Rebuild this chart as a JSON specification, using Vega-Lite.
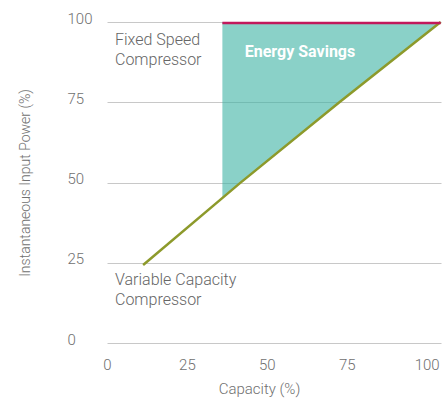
{
  "$schema": "https://vega.github.io/schema/vega-lite/v6.json",
  "width": 334,
  "height": 321,
  "autosize": {"type": "none"},
  "padding": {"left": 107, "top": 22, "right": 7, "bottom": 58},
  "config": {
    "view": {"stroke": null},
    "font": "Roboto",
    "axis": {
      "labelFont": "Roboto",
      "labelFontSize": 15,
      "labelFontWeight": 300,
      "labelColor": "#707070",
      "titleFont": "Roboto",
      "titleFontSize": 15,
      "titleFontWeight": 300,
      "titleColor": "#707070",
      "gridColor": "#c8c8c8",
      "gridWidth": 1,
      "domain": false,
      "ticks": false,
      "tickSize": 0
    }
  },
  "datasets": {
    "variable": [
      {"capacity": 11.3, "power": 24.3},
      {"capacity": 41.6, "power": 49.8},
      {"capacity": 72.8, "power": 75.1},
      {"capacity": 104.4, "power": 100}
    ],
    "savings": [
      {"capacity": 36.1, "low": 45.5, "high": 100},
      {"capacity": 41.6, "low": 49.8, "high": 100},
      {"capacity": 72.8, "low": 75.1, "high": 100},
      {"capacity": 104.4, "low": 100, "high": 100}
    ],
    "fixed": [
      {"start": 36.1, "end": 104.4, "power": 100}
    ],
    "labels": [
      {"capacity": 2.5, "power": 92.8, "label": "Fixed Speed\nCompressor"},
      {"capacity": 2.5, "power": 18.1, "label": "Variable Capacity\nCompressor"}
    ],
    "savingsLabel": [
      {"capacity": 43.1, "power": 89.1, "label": "Energy Savings"}
    ]
  },
  "layer": [
    {
      "data": {"name": "savings"},
      "mark": {"type": "area", "color": "#3cb2a3", "opacity": 0.6},
      "encoding": {
        "x": {
          "field": "capacity",
          "type": "quantitative",
          "scale": {"domain": [0, 104.5], "nice": false, "zero": false},
          "axis": {
            "values": [0, 25, 50, 75, 100],
            "grid": false,
            "labelFlush": false,
            "labelPadding": 14,
            "labelBaseline": "top",
            "title": "Capacity (%)",
            "titleX": 152,
            "titleY": 50,
            "titleBaseline": "alphabetic",
            "titleAnchor": "middle"
          }
        },
        "y": {
          "field": "low",
          "type": "quantitative",
          "scale": {"domain": [0, 100], "nice": false},
          "axis": {
            "values": [0, 25, 50, 75, 100],
            "labelAlign": "left",
            "labelPadding": 40,
            "labelBaseline": "alphabetic",
            "labelOffset": 1,
            "title": "Instantaneous Input Power (%)",
            "titleFontSize": 14,
            "titleX": -78,
            "titleY": 160.5,
            "titleAngle": -90,
            "titleBaseline": "alphabetic",
            "titleAnchor": "middle"
          }
        },
        "y2": {"field": "high"}
      }
    },
    {
      "data": {"name": "variable"},
      "mark": {"type": "line", "color": "#8d9a2b", "strokeWidth": 2.5},
      "encoding": {
        "x": {"field": "capacity", "type": "quantitative"},
        "y": {"field": "power", "type": "quantitative"}
      }
    },
    {
      "data": {"name": "fixed"},
      "mark": {"type": "rule", "color": "#c2185b", "strokeWidth": 2.5, "yOffset": 1},
      "encoding": {
        "x": {"field": "start", "type": "quantitative"},
        "x2": {"field": "end"},
        "y": {"field": "power", "type": "quantitative"}
      }
    },
    {
      "data": {"name": "labels"},
      "mark": {"type": "text", "align": "left", "baseline": "alphabetic", "font": "Roboto", "fontSize": 16, "fontWeight": 300, "color": "#666666", "lineBreak": "\n", "lineHeight": 20},
      "encoding": {
        "x": {"field": "capacity", "type": "quantitative"},
        "y": {"field": "power", "type": "quantitative"},
        "text": {"field": "label"}
      }
    },
    {
      "data": {"name": "savingsLabel"},
      "mark": {"type": "text", "align": "left", "baseline": "alphabetic", "font": "Roboto", "fontSize": 16, "fontWeight": "bold", "color": "#ffffff"},
      "encoding": {
        "x": {"field": "capacity", "type": "quantitative"},
        "y": {"field": "power", "type": "quantitative"},
        "text": {"field": "label"}
      }
    }
  ]
}
